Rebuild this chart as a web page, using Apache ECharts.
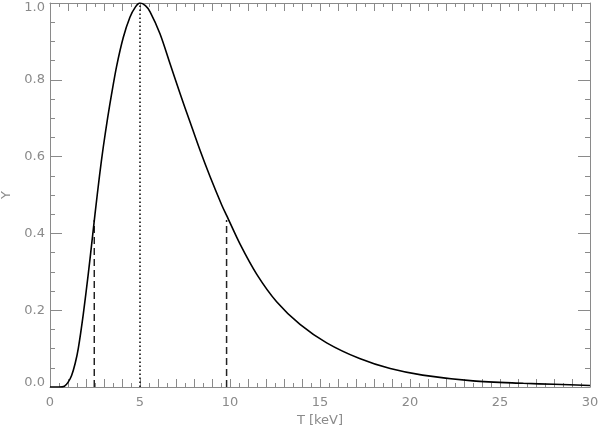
<!DOCTYPE html>
<html>
<head>
<meta charset="utf-8">
<script src="https://cdn.jsdelivr.net/npm/echarts@6/dist/echarts.min.js"></script>
<style>html,body{margin:0;padding:0;background:#fff}#c{width:600px;height:428px}</style>
</head>
<body>
<div id="c"></div>
<script>
// Curve
var curveT = [0, 0.5, 0.8, 1.0, 1.2, 1.4, 1.57, 1.85, 2.13, 2.31, 2.5, 2.75, 2.96, 3.2, 3.43, 3.7, 4.07, 4.44, 4.75, 5.0, 5.3, 5.56, 6.11, 6.67, 7.22, 7.78, 8.33, 8.89, 9.54, 9.81, 10.56, 11.48, 12.59, 13.89, 15.37, 17.2, 18.9, 20.7, 23.5, 26.3, 28.0, 30.0];
var curveY = [0, 0, 0.002, 0.012, 0.03, 0.062, 0.1, 0.19, 0.296, 0.37, 0.45, 0.55, 0.625, 0.70, 0.765, 0.835, 0.91, 0.963, 0.99, 1.0, 0.993, 0.977, 0.92, 0.842, 0.765, 0.69, 0.617, 0.548, 0.474, 0.447, 0.372, 0.294, 0.222, 0.163, 0.115, 0.074, 0.048, 0.031, 0.016, 0.0096, 0.007, 0.004];
// Vertical marker lines
var dashT = [2.46, 9.81];
var dashY = [0.435, 0.435];
var peakT = 5.0;
var peakY = 1.0;
// Axis settings
var xMin = 0, xMax = 30, xLabelStep = 5;
var yMin = 0, yMax = 1.0, yStep = 0.2;

var gray = '#8a8a8a';
var font = 'DejaVu Sans';

var curve = curveT.map(function (t, i) { return [t, curveY[i]]; });

function xAx(pos, labels) {
  return {
    type: 'value', position: pos, min: xMin, max: xMax, interval: 1,
    name: labels ? 'T [keV]' : '', nameLocation: 'middle', nameGap: 19,
    nameTextStyle: { color: gray, fontFamily: font, fontSize: 13 },
    axisLine: { show: true, onZero: false, lineStyle: { color: gray, width: 1 } },
    axisTick: { show: true, inside: true, length: 8, lineStyle: { color: gray } },
    minorTick: { show: true, splitNumber: 2, length: 4, lineStyle: { color: gray } },
    splitLine: { show: false },
    axisLabel: {
      show: labels, color: gray, fontFamily: font, fontSize: 13, margin: 9,
      formatter: function (v) { return (v % xLabelStep === 0) ? String(v) : ''; }
    }
  };
}
function yAx(pos, labels) {
  return {
    type: 'value', position: pos, min: yMin, max: yMax, interval: yStep,
    name: labels ? 'Y' : '', nameLocation: 'middle', nameGap: 33, nameRotate: 90,
    nameTextStyle: { color: gray, fontFamily: font, fontSize: 13 },
    axisLine: { show: true, onZero: false, lineStyle: { color: gray, width: 1 } },
    axisTick: { show: true, inside: true, length: 12, lineStyle: { color: gray } },
    minorTick: { show: true, splitNumber: 4, length: 5, lineStyle: { color: gray } },
    splitLine: { show: false },
    axisLabel: {
      show: labels, color: gray, fontFamily: font, fontSize: 13, margin: 5,
      formatter: function (v) {
        var s = v.toFixed(1);
        if (Math.abs(v - yMax) < 1e-9) return '{hi|' + s + '}';
        if (Math.abs(v - yMin) < 1e-9) return '{lo|' + s + '}';
        return s;
      },
      rich: {
        hi: { color: gray, fontFamily: font, fontSize: 13, padding: [9, 0, 0, 0] },
        lo: { color: gray, fontFamily: font, fontSize: 13, padding: [0, 0, 8, 0] }
      }
    }
  };
}

var series = [{
  type: 'line', data: curve, showSymbol: false, smooth: 0.3,
  lineStyle: { color: '#000', width: 1.6 }, z: 5
}];
dashT.forEach(function (t, i) {
  series.push({
    type: 'line', data: [[t, 0], [t, dashY[i]]], showSymbol: false,
    lineStyle: { color: '#222', width: 1.5, type: [7, 4] }
  });
});
series.push({
  type: 'line', data: [[peakT, 0], [peakT, peakY]], showSymbol: false,
  lineStyle: { color: '#000', width: 1.5, type: [1.5, 2.5] }
});

var chart = echarts.init(document.getElementById('c'), null, { renderer: 'canvas' });
chart.setOption({
  animation: false,
  backgroundColor: '#fff',
  grid: { left: 50, right: 10, top: 3, bottom: 41, containLabel: false, outerBoundsMode: 'none' },
  xAxis: [xAx('bottom', true), xAx('top', false)],
  yAxis: [yAx('left', true), yAx('right', false)],
  series: series
});
</script>
</body>
</html>
